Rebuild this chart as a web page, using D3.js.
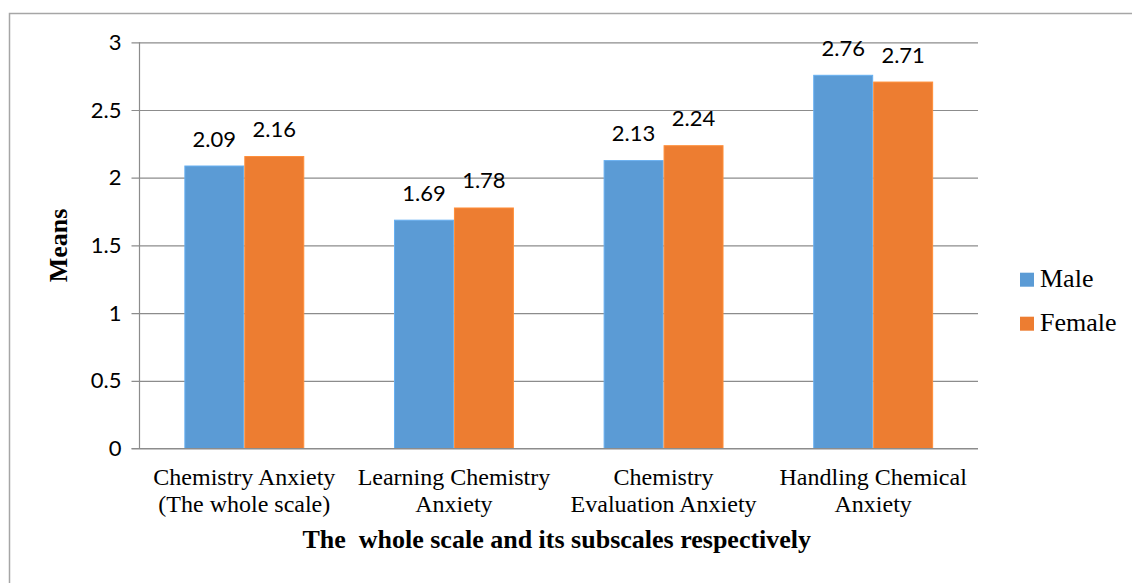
<!DOCTYPE html>
<html>
<head>
<meta charset="utf-8">
<script src="https://cdn.jsdelivr.net/npm/d3@7"></script>
<style>
  html, body { margin: 0; padding: 0; background: #fff; }
  svg { display: block; }
</style>
</head>
<body>
<svg id="chart" width="1132" height="583"></svg>
<script>
// Chemistry anxiety means by gender, for the whole scale and its subscales
const categories = [
  ["Chemistry Anxiety", "(The whole scale)"],
  ["Learning Chemistry", "Anxiety"],
  ["Chemistry", "Evaluation Anxiety"],
  ["Handling Chemical", "Anxiety"]
];
const seriesNames = ["Male", "Female"];
const maleValues = [2.09, 1.69, 2.13, 2.76];
const femaleValues = [2.16, 1.78, 2.24, 2.71];
const yTicks = [0, 0.5, 1, 1.5, 2, 2.5, 3];
const yTitle = "Means";
const xTitle = "The  whole scale and its subscales respectively";

const colors = { Male: "#5B9BD5", Female: "#ED7D31" };
const gridColor = "#8c8c8c";
const sansFont = "Lato, 'Open Sans', sans-serif";
const serifFont = "'Liberation Serif', 'Times New Roman', serif";

const svg = d3.select("#chart");

// Outer chart frame
svg.append("rect")
  .attr("x", 9.5).attr("y", 13.5)
  .attr("width", 1140).attr("height", 600)
  .attr("fill", "none").attr("stroke", "#a6a6a6").attr("stroke-width", 1.5);

const plot = { left: 139.5, right: 978, top: 42.3, bottom: 448.5 };

const keys = categories.map((c, i) => i);
const x = d3.scaleBand().domain(keys).range([plot.left, plot.right]).paddingInner(0).paddingOuter(0);
const groupWidth = x.bandwidth() * 0.572;
const xs = d3.scaleBand().domain(seriesNames).range([0, groupWidth]);
const y = d3.scaleLinear().domain([0, 3]).range([plot.bottom, plot.top]);

// Horizontal gridlines with tick labels
const yAxis = d3.axisLeft(y)
  .tickValues(yTicks)
  .tickSize(-(plot.right - plot.left))
  .tickPadding(18)
  .tickFormat(d => d3.format("")(d));

const gy = svg.append("g")
  .attr("transform", `translate(${plot.left},0)`)
  .call(yAxis);
gy.select(".domain").remove();
gy.selectAll(".tick line")
  .attr("x1", -8)
  .attr("stroke", gridColor).attr("stroke-width", 1.2);
gy.selectAll(".tick text")
  .attr("font-family", sansFont).attr("font-size", 22)
  .attr("fill", "#000");

// Vertical value axis line
svg.append("line")
  .attr("x1", plot.left).attr("x2", plot.left)
  .attr("y1", plot.top).attr("y2", plot.bottom)
  .attr("stroke", gridColor).attr("stroke-width", 1.2);

// Bars
const rows = keys.map(i => ({ i, values: [
  { key: "Male", value: maleValues[i] },
  { key: "Female", value: femaleValues[i] }
]}));

const groups = svg.append("g").selectAll("g")
  .data(rows).join("g")
  .attr("transform", d => `translate(${x(d.i) + (x.bandwidth() - groupWidth) / 2},0)`);

groups.selectAll("rect")
  .data(d => d.values).join("rect")
  .attr("x", d => xs(d.key) + 0.5)
  .attr("width", xs.bandwidth() - 1)
  .attr("y", d => y(d.value) + 0.5)
  .attr("height", d => y(0) - y(d.value) - 0.5)
  .attr("fill", d => colors[d.key])
  .attr("stroke", d => d3.color(colors[d.key]).brighter(0.35))
  .attr("stroke-width", 1);

groups.selectAll("text.value")
  .data(d => d.values).join("text")
  .attr("class", "value")
  .attr("x", d => xs(d.key) + xs.bandwidth() / 2)
  .attr("y", d => y(d.value) - 19)
  .attr("text-anchor", "middle")
  .attr("font-family", sansFont).attr("font-size", 22)
  .attr("fill", "#000")
  .text(d => d3.format(".2f")(d.value));

// Baseline redrawn over bars
svg.append("line")
  .attr("x1", plot.left - 8).attr("x2", plot.right)
  .attr("y1", y(0)).attr("y2", y(0))
  .attr("stroke", gridColor).attr("stroke-width", 1.2);

// Category labels
const catLabels = svg.append("g").selectAll("text")
  .data(keys).join("text")
  .attr("x", i => x(i) + x.bandwidth() / 2)
  .attr("y", 485)
  .attr("text-anchor", "middle")
  .attr("font-family", serifFont).attr("font-size", 24)
  .attr("fill", "#000");
catLabels.selectAll("tspan")
  .data(i => categories[i]).join("tspan")
  .attr("x", function() { return d3.select(this.parentNode).attr("x"); })
  .attr("dy", (d, j) => j === 0 ? 0 : 27)
  .text(d => d);

// Axis titles
svg.append("text")
  .attr("x", (plot.left + plot.right) / 2 - 2)
  .attr("y", 548)
  .attr("text-anchor", "middle")
  .attr("font-family", serifFont).attr("font-size", 26).attr("font-weight", "bold")
  .attr("fill", "#000")
  .attr("xml:space", "preserve")
  .style("white-space", "pre")
  .text(xTitle);

svg.append("text")
  .attr("transform", `translate(67,${(plot.top + plot.bottom) / 2}) rotate(-90)`)
  .attr("text-anchor", "middle")
  .attr("font-family", serifFont).attr("font-size", 26).attr("font-weight", "bold")
  .attr("fill", "#000")
  .text(yTitle);

// Legend
const legend = svg.append("g").selectAll("g")
  .data(seriesNames).join("g")
  .attr("transform", (d, i) => `translate(1020,${272.7 + i * 44})`);
legend.append("rect")
  .attr("width", 14).attr("height", 14)
  .attr("fill", d => colors[d]);
legend.append("text")
  .attr("x", 20).attr("y", 14)
  .attr("font-family", serifFont).attr("font-size", 26)
  .attr("fill", "#000")
  .text(d => d);
</script>
</body>
</html>
